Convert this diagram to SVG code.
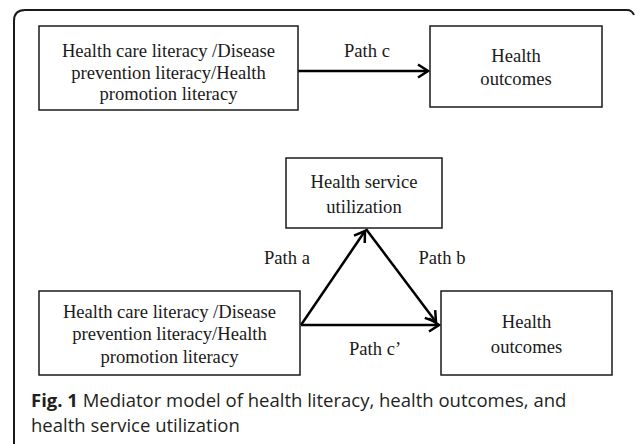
<svg xmlns="http://www.w3.org/2000/svg" width="635" height="444" viewBox="0 0 635 444">
  <style>
    .box { fill: #ffffff; stroke: #1a1a1a; stroke-width: 1.5; }
    .lbl { font-family: "Liberation Serif", "Times New Roman", serif; font-size: 18.6px; fill: #1a1a1a; text-anchor: middle; }
    .conn { stroke: #000000; stroke-width: 2.5; fill: none; }
    .cap { font-family: "Open Sans", "Noto Sans", sans-serif; font-size: 18.5px; fill: #231f20; }
  </style>
  <defs>
    <marker id="chev" markerUnits="userSpaceOnUse" viewBox="-12 -8 14 16" refX="0" refY="0" markerWidth="14" markerHeight="16" orient="auto">
      <path d="M-10,-6.5 L0,0 L-10,6.5" fill="none" stroke="#000000" stroke-width="2.5" stroke-linejoin="miter"/>
    </marker>
  </defs>

  <rect width="635" height="444" fill="#ffffff"/>

  <!-- outer frame -->
  <path d="M14,444 V21 Q14,10 25,10 H627 Q632,10 634,15" fill="none" stroke="#1a1a1a" stroke-width="2"/>

  <!-- connectors -->
  <g id="connectors">
    <line class="conn" x1="298" y1="71" x2="428" y2="71" marker-end="url(#chev)"/>
    <line class="conn" x1="301" y1="325" x2="365" y2="231" marker-end="url(#chev)"/>
    <line class="conn" x1="366" y1="229" x2="436" y2="322" marker-end="url(#chev)"/>
    <line class="conn" x1="301" y1="325" x2="439" y2="325" marker-end="url(#chev)"/>
    <text class="lbl" x="367" y="57">Path c</text>
    <text class="lbl" x="287" y="264">Path a</text>
    <text class="lbl" x="442" y="264">Path b</text>
    <text class="lbl" x="375" y="355">Path c’</text>
  </g>

  <g id="literacy-top">
    <rect class="box" x="39" y="26" width="259" height="84"/>
    <text class="lbl" x="168.5" y="57">Health care literacy /Disease</text>
    <text class="lbl" x="168.5" y="79">prevention literacy/Health</text>
    <text class="lbl" x="168.5" y="100">promotion literacy</text>
  </g>

  <g id="outcomes-top">
    <rect class="box" x="430" y="26" width="172" height="81"/>
    <text class="lbl" x="516" y="62">Health</text>
    <text class="lbl" x="516" y="85">outcomes</text>
  </g>

  <g id="service-utilization">
    <rect class="box" x="286" y="158" width="156" height="70"/>
    <text class="lbl" x="364" y="188">Health service</text>
    <text class="lbl" x="364" y="213">utilization</text>
  </g>

  <g id="literacy-bottom">
    <rect class="box" x="39" y="291" width="261" height="84"/>
    <text class="lbl" x="169.5" y="318">Health care literacy /Disease</text>
    <text class="lbl" x="169.5" y="340">prevention literacy/Health</text>
    <text class="lbl" x="169.5" y="363">promotion literacy</text>
  </g>

  <g id="outcomes-bottom">
    <rect class="box" x="441" y="291" width="171" height="84"/>
    <text class="lbl" x="526.5" y="328">Health</text>
    <text class="lbl" x="526.5" y="353">outcomes</text>
  </g>

  <!-- caption -->
  <text class="cap" x="31" y="407"><tspan font-weight="bold">Fig. 1</tspan> Mediator model of health literacy, health outcomes, and</text>
  <text class="cap" x="31" y="432">health service utilization</text>
</svg>
